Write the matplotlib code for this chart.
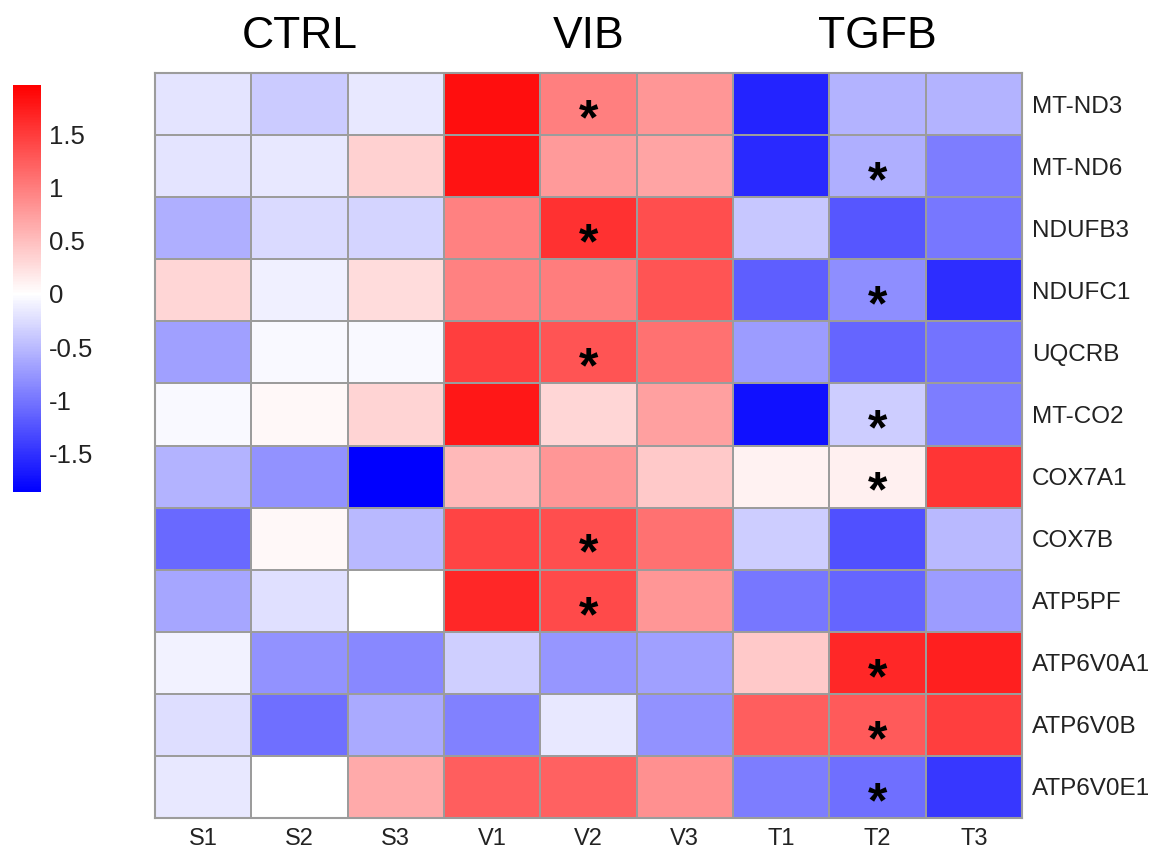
import numpy as np
import matplotlib.pyplot as plt
from matplotlib.colors import LinearSegmentedColormap, Normalize

plt.rcParams['font.family'] = ['Liberation Sans', 'DejaVu Sans']
plt.rcParams['mathtext.fontset'] = 'custom'
plt.rcParams['mathtext.rm'] = 'Liberation Sans'
plt.rcParams['mathtext.bf'] = 'Liberation Sans:bold'

genes = ["MT-ND3", "MT-ND6", "NDUFB3", "NDUFC1", "UQCRB", "MT-CO2",
         "COX7A1", "COX7B", "ATP5PF", "ATP6V0A1", "ATP6V0B", "ATP6V0E1"]
samples = ["S1", "S2", "S3", "V1", "V2", "V3", "T1", "T2", "T3"]
groups = ["CTRL", "VIB", "TGFB"]

# z-scores, one row per gene
values = [
    [-0.20, -0.37, -0.17, 1.85, 0.98, 0.81, -1.60, -0.55, -0.55],
    [-0.20, -0.17, 0.36, 1.80, 0.77, 0.70, -1.55, -0.58, -0.94],
    [-0.58, -0.27, -0.31, 0.97, 1.58, 1.35, -0.40, -1.23, -0.98],
    [0.31, -0.11, 0.27, 0.97, 1.00, 1.31, -1.16, -0.83, -1.52],
    [-0.69, -0.05, -0.05, 1.47, 1.31, 1.08, -0.72, -1.12, -1.02],
    [-0.05, 0.05, 0.33, 1.78, 0.31, 0.73, -1.74, -0.36, -0.94],
    [-0.56, -0.80, -1.85, 0.54, 0.81, 0.42, 0.10, 0.12, 1.55],
    [-1.09, 0.05, -0.51, 1.43, 1.35, 1.08, -0.36, -1.27, -0.51],
    [-0.65, -0.22, 0.00, 1.66, 1.39, 0.81, -0.98, -1.12, -0.72],
    [-0.09, -0.80, -0.87, -0.34, -0.76, -0.69, 0.42, 1.66, 1.72],
    [-0.24, -1.05, -0.62, -0.91, -0.17, -0.80, 1.24, 1.27, 1.47],
    [-0.17, 0.00, 0.66, 1.24, 1.20, 0.85, -0.94, -1.05, -1.45],
]

# significant cells (gene, sample)
stars = [("MT-ND3", "V2"), ("MT-ND6", "T2"), ("NDUFB3", "V2"), ("NDUFC1", "T2"),
         ("UQCRB", "V2"), ("MT-CO2", "T2"), ("COX7A1", "T2"), ("COX7B", "V2"),
         ("ATP5PF", "V2"), ("ATP6V0A1", "T2"), ("ATP6V0B", "T2"), ("ATP6V0E1", "T2")]

cbar_ticks = [1.5, 1, 0.5, 0, -0.5, -1, -1.5]
vmin, vmax = -1.86, 1.96

data = np.array(values)
mid = -vmin / (vmax - vmin)
cmap = LinearSegmentedColormap.from_list(
    "bwr2", [(0, "#0000ff"), (mid, "#ffffff"), (1, "#ff0000")])
norm = Normalize(vmin=vmin, vmax=vmax)

fig = plt.figure(figsize=(11.6, 8.52), dpi=100)
ax = fig.add_axes([0.1336, 0.0399, 0.7474, 0.8744])

ax.pcolormesh(data, cmap=cmap, norm=norm, edgecolors="#9c9c9c", linewidth=1.3)
ax.set_xlim(0, len(samples))
ax.set_ylim(len(genes), 0)

ax.set_xticks(np.arange(len(samples)) + 0.5)
ax.set_xticklabels(samples, fontsize=17, color="#222222")
ax.set_yticks(np.arange(len(genes)) + 0.5)
ax.set_yticklabels(genes, fontsize=17.5, color="#222222")
ax.yaxis.tick_right()
ax.tick_params(length=0, pad=7)
for s in ax.spines.values():
    s.set_color("#9c9c9c")
    s.set_linewidth(1.5)

# stars as tight-box math text so they stay inside their cells
for g, smp in stars:
    ax.text(samples.index(smp) + 0.5, genes.index(g) + 0.76, r"$\mathbf{*}$",
            ha="center", va="center", fontsize=36, color="black")

for i, name in enumerate(groups):
    ax.text(i * 3 + 1.5, -0.25, name, ha="center", va="bottom", fontsize=32)

cax = fig.add_axes([0.0112, 0.4225, 0.0241, 0.4777])
cb = fig.colorbar(plt.cm.ScalarMappable(norm=norm, cmap=cmap), cax=cax)
cb.outline.set_visible(False)
cb.set_ticks(cbar_ticks)
cb.set_ticklabels(["%g" % t for t in cbar_ticks])
cb.ax.tick_params(length=0, labelsize=18.5, pad=6, labelcolor="#222222")

plt.savefig("out.png")
plt.close()
